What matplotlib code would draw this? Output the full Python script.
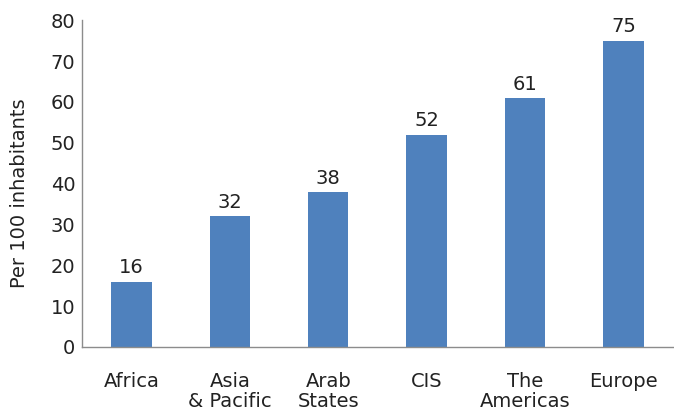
import matplotlib.pyplot as plt
import numpy as np

# Données
regions = ["Africa", "Asia\n& Pacific", "Arab\nStates", "CIS", "The\nAmericas", "Europe"]
valeurs = [16, 32, 38, 52, 61, 75]
yticks = [0, 10, 20, 30, 40, 50, 60, 70, 80]

couleur_barre = "#4F81BD"
couleur_texte = "#222222"

plt.rcParams['font.family'] = ['DejaVu Sans']

fig = plt.figure(figsize=(6.74, 4.12), dpi=100)
ax = fig.add_axes([0.122, 0.158, 0.876, 0.793])

x = np.arange(len(regions))
barres = ax.bar(x, valeurs, width=0.41, color=couleur_barre)

# Étiquettes au-dessus des barres
for xi, v in zip(x, valeurs):
    ax.text(xi, v + 2, str(v), ha='center', va='baseline', fontsize=14, color=couleur_texte)

ax.set_xlim(-0.5, len(regions) - 0.5)
ax.set_ylim(0, 80)
ax.set_yticks(yticks)
ax.set_xticks(x)
ax.set_xticklabels(regions, fontsize=14, color=couleur_texte, linespacing=1.05)
ax.tick_params(axis='y', length=0, pad=5, labelsize=14, labelcolor=couleur_texte)
ax.tick_params(axis='x', length=0, pad=18)
ax.set_ylabel("Per 100 inhabitants", fontsize=14, color=couleur_texte)
ax.yaxis.set_label_coords(-0.09, 0.47)

for cote in ['top', 'right']:
    ax.spines[cote].set_visible(False)
for cote in ['left', 'bottom']:
    ax.spines[cote].set_color('#8c8c8c')
    ax.spines[cote].set_linewidth(1.0)

fig.savefig("out.png", dpi=100)
